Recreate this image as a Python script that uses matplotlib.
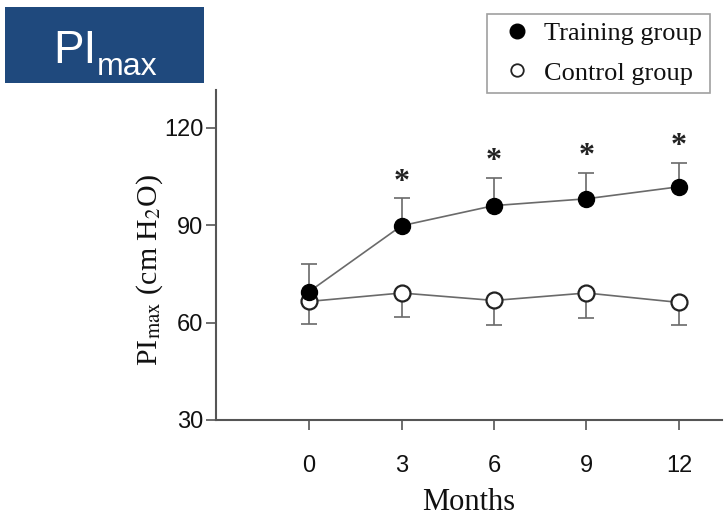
import numpy as np
import matplotlib
matplotlib.use("Agg")
import matplotlib.pyplot as plt
from matplotlib.patches import Rectangle

plt.rcParams["mathtext.fontset"] = "stix"

months = [0, 3, 6, 9, 12]

# training group: mean and SD (upper bars only)
train_mean = [69.5, 89.8, 96.0, 98.1, 101.8]
train_sd = [8.6, 8.4, 8.6, 8.0, 7.4]

# control group: mean and SD (lower bars only)
ctrl_mean = [66.5, 69.1, 66.8, 69.1, 66.2]
ctrl_sd = [7.0, 7.3, 7.5, 7.7, 6.9]

# months with significant difference vs control
sig_months = [3, 6, 9, 12]

y_ticks = [30, 60, 90, 120]

SERIF = "Liberation Serif"
SANS = "Liberation Sans"
GREY = "#555555"
LINE = "#6a6a6a"
INK = "#111111"

fig = plt.figure(figsize=(7.25, 5.18), dpi=100)
ax = fig.add_axes([0.2979, 0.1892, 0.698, 0.6371])

tr = np.array(train_mean)
ct = np.array(ctrl_mean)
tr_top = tr + np.array(train_sd)
ct_bot = ct - np.array(ctrl_sd)

# one-sided error bars: stems plus caps
ax.vlines(months, tr, tr_top, color=LINE, lw=1.2, zorder=2)
ax.plot(months, tr_top, ls="none", marker="_", ms=12, mew=1.2, color=LINE,
        zorder=2)
ax.vlines(months, ct_bot, ct, color=LINE, lw=1.2, zorder=2)
ax.plot(months, ct_bot, ls="none", marker="_", ms=12, mew=1.2, color=LINE,
        zorder=2)

ax.plot(months, ctrl_mean, color=LINE, lw=1.2, zorder=3)
ax.plot(months, ctrl_mean, ls="none", marker="o", ms=11.5, mfc="white",
        mec="#222222", mew=1.6, zorder=4)
ax.plot(months, train_mean, color=LINE, lw=1.2, zorder=5)
ax.plot(months, train_mean, ls="none", marker="o", ms=11.5, mfc="black",
        mec="black", zorder=6)

# significance stars above the training error bars
for m in sig_months:
    i = months.index(m)
    ax.text(m, tr_top[i] + 5.0, "*", ha="center", va="center", fontsize=23,
            family=SERIF, fontweight="bold", color="#222222")

ax.set_xlim(-3.02, 13.4)
ax.set_ylim(30, 131.6)
ax.set_xticks(months)
ax.set_yticks(y_ticks)
ax.tick_params(axis="both", colors=GREY, labelcolor=INK, labelsize=17,
               width=1.2)
ax.tick_params(axis="y", length=7, pad=2)
ax.tick_params(axis="x", length=7, pad=18)
for lab in ax.get_xticklabels() + ax.get_yticklabels():
    lab.set_family(SANS)
for side in ("top", "right"):
    ax.spines[side].set_visible(False)
for side in ("left", "bottom"):
    ax.spines[side].set_color(GREY)
    ax.spines[side].set_linewidth(1.5)

ax.set_xlabel("Months", fontsize=22, family=SERIF, color=INK, labelpad=8)
ax.set_ylabel(r"PI$_{\mathrm{max}}$ (cm H$_2$O)", fontsize=21.5,
              family=SERIF, color=INK)
ax.yaxis.set_label_coords(-0.101, 0.455)

# legend box top right
h_tr, = ax.plot([], [], ls="none", marker="o", ms=10.5, mfc="black",
                mec="black", label="Training group")
h_ct, = ax.plot([], [], ls="none", marker="o", ms=9, mfc="white",
                mec="#222222", mew=1.3, label="Control group")
leg = fig.legend(handles=[h_tr, h_ct], loc="upper left",
                 bbox_to_anchor=(487 / 725, 1 - 14 / 518),
                 prop={"family": SERIF, "size": 19}, frameon=True,
                 fancybox=False, edgecolor="#888888", handlelength=1.7,
                 handletextpad=0.15, borderpad=0.3, labelspacing=0.6,
                 borderaxespad=0)
leg.get_frame().set_linewidth(1.2)
for t in leg.get_texts():
    t.set_color(INK)

# title badge
fig.patches.append(Rectangle((5 / 725, 1 - 83 / 518), 199 / 725, 76 / 518,
                             transform=fig.transFigure, facecolor="#1F497D",
                             edgecolor="none"))
fig.text(53 / 725, 1 - 63 / 518, "PI", fontsize=33, family=SANS,
         color="white", ha="left", va="baseline")
fig.text(97 / 725, 1 - 75 / 518, "max", fontsize=23, family=SANS,
         color="white", ha="left", va="baseline")

fig.savefig("out.png", dpi=100)
